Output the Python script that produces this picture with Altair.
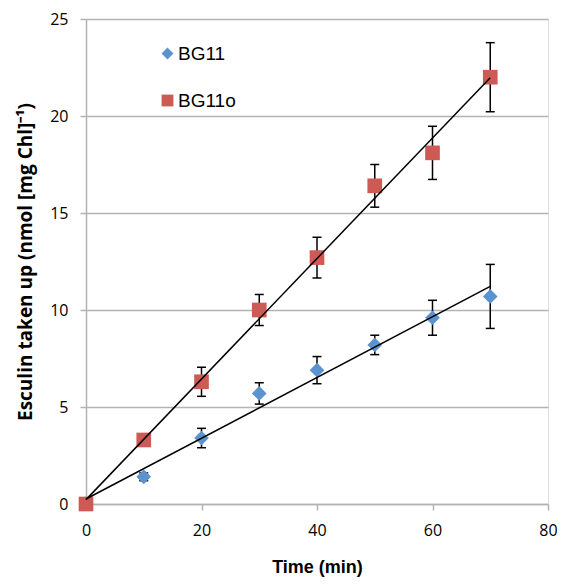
import altair as alt
import pandas as pd

time = [0, 10, 20, 30, 40, 50, 60, 70]
bg11 = [0.0, 1.4, 3.4, 5.7, 6.9, 8.2, 9.6, 10.7]
bg11_err = [0.0, 0.2, 0.5, 0.55, 0.7, 0.5, 0.9, 1.65]
bg11o = [0.0, 3.3, 6.3, 10.0, 12.7, 16.4, 18.1, 22.0]
bg11o_err = [0.0, 0.2, 0.75, 0.8, 1.05, 1.1, 1.37, 1.78]
series_names = ["BG11", "BG11o"]
x_ticks = [0, 20, 40, 60, 80]
y_ticks = [0, 5, 10, 15, 20, 25]

rows = []
for name, vals, errs in [("BG11", bg11, bg11_err), ("BG11o", bg11o, bg11o_err)]:
    for t, v, e in zip(time, vals, errs):
        rows.append({"time": t, "value": v, "lo": v - e, "hi": v + e, "series": name})
df = pd.DataFrame(rows)

FONT = "Liberation Sans"
LABEL_FONT = "Open Sans"
GRID = "#B3B3B3"

xscale = alt.Scale(domain=[0, 80], nice=False, zero=False)
yscale = alt.Scale(domain=[0, 25], nice=False)

xaxis = alt.Axis(values=x_ticks, title="Time (min)", grid=False,
                 domainColor=GRID, domainWidth=1.5, tickColor=GRID, tickWidth=1.5,
                 tickSize=6, labelFont=LABEL_FONT, labelFontSize=16, labelColor="#000",
                 labelPadding=12, titleFont=FONT, titleFontSize=18, titleFontWeight="bold",
                 titleColor="#000", titlePadding=20, labelFlush=False)
yaxis = alt.Axis(values=y_ticks, title="Esculin taken up (nmol [mg Chl]\u207b\u00b9)",
                 grid=True, gridColor=GRID, gridWidth=1.5,
                 domainColor=GRID, domainWidth=1.5, tickColor=GRID, tickWidth=1.5,
                 tickSize=6, labelFont=LABEL_FONT, labelFontSize=16, labelColor="#000",
                 labelPadding=12, titleFont=LABEL_FONT, titleFontSize=19, titleFontWeight="bold",
                 titleColor="#000", titlePadding=14, labelFlush=False)

base = alt.Chart(df)

color = alt.Color("series:N", scale=alt.Scale(domain=series_names, range=["#5B93CF", "#CD5A54"]),
                  legend=alt.Legend(title=None, orient="none", legendX=72, legendY=25,
                                    labelFont=FONT, labelFontSize=19, labelColor="#000",
                                    symbolSize=140, symbolStrokeWidth=0, rowPadding=27,
                                    labelOffset=1, symbolOpacity=1))
shape = alt.Shape("series:N", scale=alt.Scale(domain=series_names, range=["diamond", "square"]),
                  legend=alt.Legend(title=None))

err_rule = base.mark_rule(color="#000", strokeWidth=1.5).encode(
    x=alt.X("time:Q", scale=xscale, axis=xaxis),
    y=alt.Y("lo:Q", scale=yscale, axis=yaxis),
    y2="hi:Q",
)
cap_lo = base.mark_tick(color="#000", thickness=1.5, size=9, orient="horizontal", opacity=1).encode(
    x=alt.X("time:Q", scale=xscale), y=alt.Y("lo:Q", scale=yscale))
cap_hi = base.mark_tick(color="#000", thickness=1.5, size=9, orient="horizontal", opacity=1).encode(
    x=alt.X("time:Q", scale=xscale), y=alt.Y("hi:Q", scale=yscale))

points = base.mark_point(filled=True, size=215, opacity=1).encode(
    x=alt.X("time:Q", scale=xscale),
    y=alt.Y("value:Q", scale=yscale),
    color=color,
    shape=shape,
)

trend = base.transform_regression("time", "value", groupby=["series"], extent=[0, 70]).mark_line(
    color="#000", strokeWidth=1.5).encode(
    x=alt.X("time:Q", scale=xscale),
    y=alt.Y("value:Q", scale=yscale),
    detail="series:N",
)

chart = alt.layer(err_rule, cap_lo, cap_hi, points, trend).properties(
    width=462, height=485,
    autosize=alt.AutoSizeParams(type="none"),
    padding={"left": 78, "top": 11, "right": 9, "bottom": 74},
).configure_view(stroke=GRID, strokeWidth=1.5).configure(background="white")

chart.save("out.html", embed_options={"renderer": "svg", "actions": False})
